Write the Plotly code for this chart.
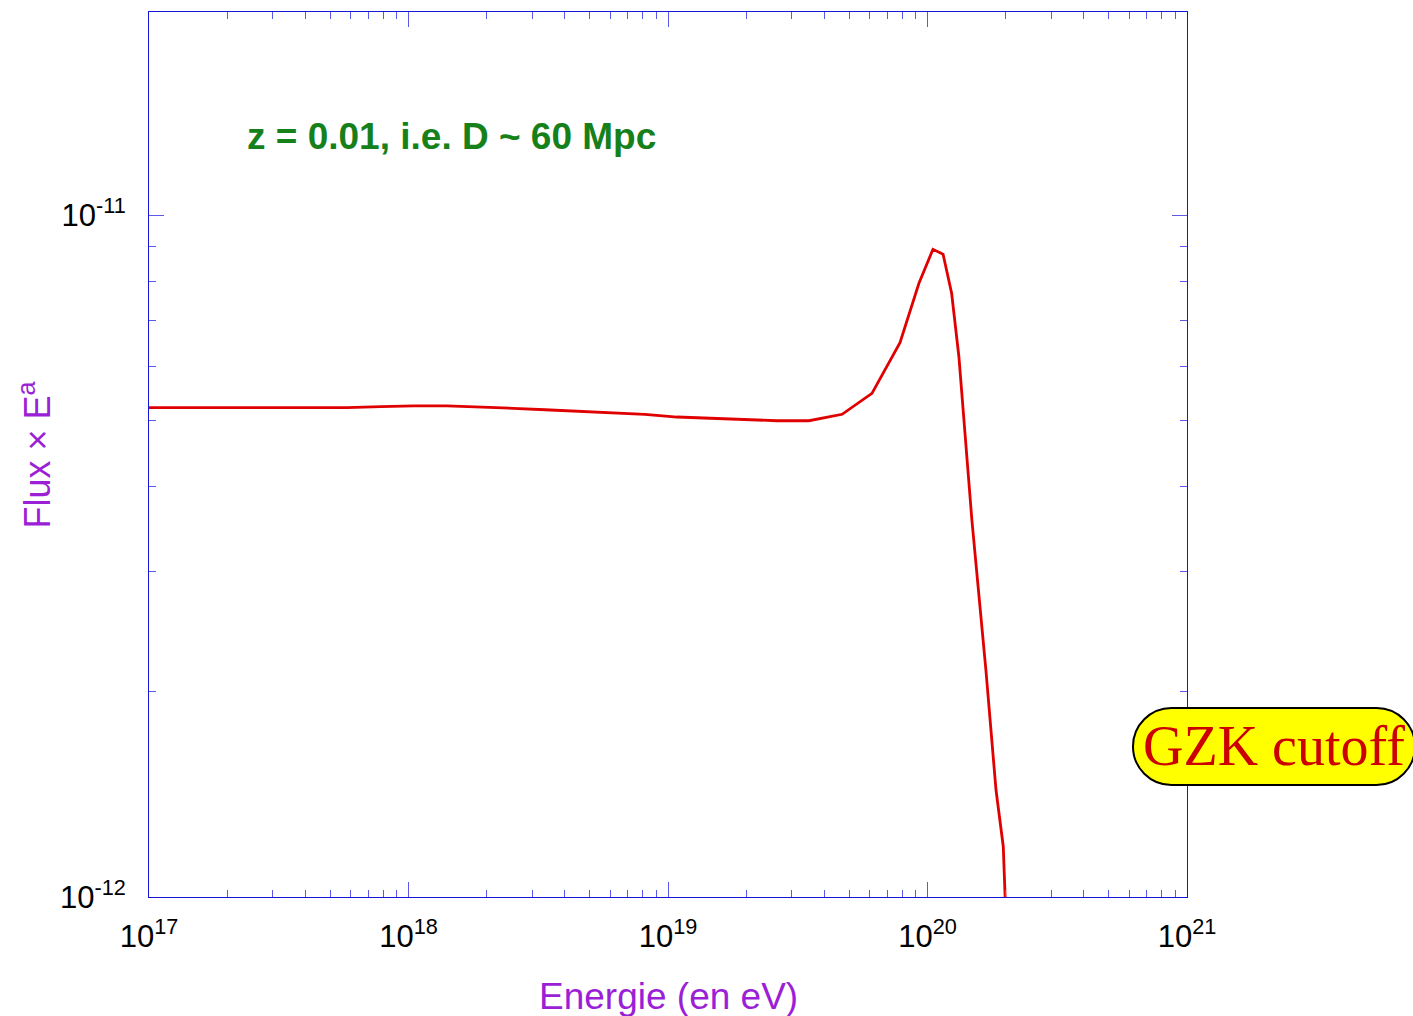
import numpy as np
import plotly.graph_objects as go

# Energy (log10 eV) and flux x E^a (units of 1e-12)
log_energy = [17.0, 17.123, 17.25, 17.378, 17.509, 17.636, 17.763, 17.894, 18.021, 18.148,
              18.276, 18.403, 18.526, 18.653, 18.784, 18.911, 19.035, 19.162, 19.289, 19.42,
              19.543, 19.671, 19.786, 19.894, 19.967, 20.021, 20.06, 20.093, 20.121, 20.171,
              20.225, 20.264, 20.292, 20.299, 20.306]
flux_e12 = [5.22, 5.22, 5.22, 5.22, 5.22, 5.22, 5.22, 5.235, 5.25, 5.25,
            5.235, 5.207, 5.182, 5.159, 5.137, 5.103, 5.056, 5.034, 5.005, 4.993,
            4.993, 5.103, 5.477, 6.498, 7.943, 8.907, 8.759, 7.679, 6.197, 3.573,
            2.153, 1.435, 1.186, 1.0, 0.85]

energy = [10 ** v for v in log_energy]
flux = [v * 1e-12 for v in flux_e12]

x_tickvals = [1e17, 1e18, 1e19, 1e20, 1e21]
x_ticktext = ["10<sup>17</sup>", "10<sup>18</sup>", "10<sup>19</sup>", "10<sup>20</sup>", "10<sup>21</sup>"]
y_tickvals = [1e-12, 1e-11]
y_ticktext = ["10<sup>-12</sup>", "10<sup>-11</sup>"]

axis_blue = "#1414dc"
tick_blue = "#5a5ae6"
purple = "#9b1fd6"

fig = go.Figure()
fig.add_trace(go.Scatter(x=energy, y=flux, mode="lines",
                         line=dict(color="#e00000", width=2.8), showlegend=False))

common = dict(showgrid=False, zeroline=False, showline=True, linecolor=axis_blue, linewidth=1,
              mirror="allticks", ticks="inside", ticklen=15, tickcolor=tick_blue, tickwidth=1,
              tickfont=dict(family="Liberation Sans, Arial, sans-serif", size=31, color="black"),
              minor=dict(ticks="inside", ticklen=7, tickcolor=tick_blue, tickwidth=1,
                         dtick="D1", showgrid=False))

fig.update_xaxes(type="log", range=[17, 21], tickvals=x_tickvals, ticktext=x_ticktext,
                 ticklabelstandoff=12, **common)
fig.update_yaxes(type="log", range=[-12, -10.7023], tickvals=y_tickvals, ticktext=y_ticktext,
                 ticklabelstandoff=16, **common)

fig.update_layout(
    width=1413, height=1016,
    margin=dict(l=149, r=226, t=12, b=119),
    plot_bgcolor="white", paper_bgcolor="white",
)

# axis titles
fig.add_annotation(text="Energie (en eV)", xref="paper", yref="paper", x=0.5, y=0,
                   yshift=-99, xanchor="center", yanchor="middle", showarrow=False,
                   font=dict(family="Liberation Sans, Arial, sans-serif", size=37, color=purple))
fig.add_annotation(text="Flux × E<sup>a</sup>", xref="paper", yref="paper", x=0, y=0.5,
                   xshift=-115, textangle=-90, xanchor="center", yanchor="middle", showarrow=False,
                   font=dict(family="Liberation Sans, Arial, sans-serif", size=36, color=purple))

# label
fig.add_annotation(text="<b>z = 0.01, i.e. D ~ 60 Mpc</b>", xref="paper", yref="paper",
                   x=0.0925, y=0.8588, xanchor="left", yanchor="middle", showarrow=False,
                   font=dict(family="Liberation Sans, Arial, sans-serif", size=37, color="#16801a"))

# GZK pill
ax, ay = 1.0838, 0.1701
hw, hh = 141, 38.5
k = 0.5523 * hh
s = hw - hh
path = (f"M {-s},{-hh} L {s},{-hh} C {s+k},{-hh} {hw},{-k} {hw},0 "
        f"C {hw},{k} {s+k},{hh} {s},{hh} L {-s},{hh} "
        f"C {-s-k},{hh} {-hw},{k} {-hw},0 C {-hw},{-k} {-s-k},{-hh} {-s},{-hh} Z")
fig.add_shape(type="path", xref="paper", yref="paper", xsizemode="pixel", ysizemode="pixel",
              xanchor=ax, yanchor=ay, path=path, fillcolor="#ffff00",
              line=dict(color="black", width=2), layer="above")
fig.add_annotation(text="GZK cutoff", xref="paper", yref="paper", x=ax, y=ay,
                   xanchor="center", yanchor="middle", showarrow=False,
                   font=dict(family="Liberation Serif, Times New Roman, serif", size=56, color="#cc0000"))

fig.write_html("out.html")
